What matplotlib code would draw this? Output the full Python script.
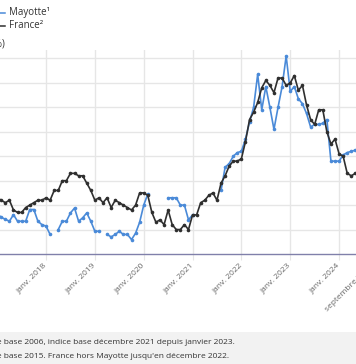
import numpy as np
import matplotlib
matplotlib.use("Agg")
import matplotlib.pyplot as plt
from matplotlib.lines import Line2D
from matplotlib.patches import Rectangle

plt.rcParams['font.family'] = ['Open Sans', 'DejaVu Sans']

# months since January 2017
france = [
    1.3, 1.2, 1.1, 1.2, 0.8, 0.7, 0.7, 0.9, 1.0, 1.1, 1.2, 1.2,   # 2017
    1.3, 1.2, 1.6, 1.6, 2.0, 2.0, 2.3, 2.3, 2.2, 2.2, 1.9, 1.6,   # 2018
    1.2, 1.3, 1.1, 1.3, 0.9, 1.2, 1.1, 1.0, 0.9, 0.8, 1.0, 1.5,   # 2019
    1.5, 1.4, 0.7, 0.3, 0.4, 0.2, 0.8, 0.2, 0.0, 0.0, 0.2, 0.0,   # 2020
    0.6, 0.6, 1.1, 1.2, 1.4, 1.5, 1.2, 1.9, 2.2, 2.6, 2.8, 2.8,   # 2021
    2.9, 3.6, 4.5, 4.8, 5.2, 5.8, 6.1, 5.9, 5.6, 6.2, 6.2, 5.9,   # 2022
    6.0, 6.3, 5.7, 5.9, 5.1, 4.5, 4.3, 4.9, 4.9, 4.0, 3.5, 3.7,   # 2023
    3.1, 3.0, 2.3, 2.2, 2.3, 2.2, 2.3, 1.8, 1.1,                  # 2024
]
N = np.nan
mayotte = [
    0.65, 0.5, 0.42, 0.34, 0.61, 0.34, 0.34, 0.34, 0.82, 0.82, 0.34, 0.2,   # 2017
    0.14, -0.2, N, 0.0, 0.34, 0.34, 0.68, 0.88, 0.34, 0.48, 0.68, 0.34,      # 2018
    -0.07, -0.07, N, -0.2, -0.3, -0.2, -0.07, -0.2, -0.2, -0.41, -0.15, 0.3, # 2019
    1.0, 1.45, N, N, N, N, 1.3, 1.3, 1.3, 1.0, 1.0, 0.4,                     # 2020
    0.6, N, N, N, N, N, N, 1.6, 2.55, 2.7, 3.0, 3.15,                        # 2021
    3.2, 3.7, 4.4, 5.0, 6.35, 4.9, 5.85, 5.0, 4.1, 5.0, 5.85, 7.1,           # 2022
    5.65, 5.85, 5.35, 5.15, 4.75, 4.2, 4.3, 4.3, 4.35, 4.5, 2.8, 2.8,        # 2023
    2.8, 3.05, 3.15, 3.2, 3.25,                                              # 2024
]
tick_months = [12, 24, 36, 48, 60, 72, 84, 92]
tick_labels = ["janv. 2018", "janv. 2019", "janv. 2020", "janv. 2021",
               "janv. 2022", "janv. 2023", "janv. 2024", "septembre 2024"]
y_ticks = [-1, 0, 1, 2, 3, 4, 5, 6, 7]

W, H = 356, 364
fig = plt.figure(figsize=(W / 100, H / 100), dpi=100)
fig.patch.set_facecolor("white")

# footnote band
fig.add_artist(Rectangle((0, 0), 1, (H - 332) / H, transform=fig.transFigure,
                         facecolor="#f2f2f2", edgecolor="none", zorder=0))

xL = -2.8 + 4.07 * (-3)
xR = -2.8 + 4.07 * 92
ax = fig.add_axes([xL / W, (H - 254) / H, (xR - xL) / W, (254 - 50) / H])
ax.set_facecolor("none")
ax.set_xlim(-3, 92)
ax.set_ylim(-1, (230 - 50) / 24.5)

for m in tick_months[:-1]:
    ax.axvline(m, color="#e6e6e6", lw=1, zorder=1)
for v in y_ticks[1:]:
    ax.axhline(v, color="#e6e6e6", lw=1, zorder=1)

xm = np.arange(len(mayotte))
xf = np.arange(len(france))
ax.plot(xm, mayotte, color="#4a8ad8", lw=1.2, marker="o", ms=2.6,
        markeredgewidth=0, zorder=3)
ax.plot(xf, france, color="#2f2f2f", lw=1.2, marker="o", ms=2.6,
        markeredgewidth=0, zorder=4)

for s in ["top", "right", "left"]:
    ax.spines[s].set_visible(False)
ax.spines["bottom"].set_color("#8080aa")
ax.spines["bottom"].set_linewidth(1)
ax.spines["bottom"].set_zorder(5)

ax.set_yticks(y_ticks)
ax.tick_params(axis="y", length=0, labelsize=6.5, labelcolor="#666666", pad=6)
ax.set_xticks(tick_months)
ax.set_xticklabels(tick_labels, rotation=45, ha="right", va="center",
                   rotation_mode="anchor", fontsize=6, color="#666666")
ax.tick_params(axis="x", length=4, color="#e6e6e6", pad=4)

# legend
def px(x, y):
    return x / W, 1 - y / H

for y, col, lab in [(13, "#4a8ad8", "Mayotte¹"), (26, "#2f2f2f", "France²")]:
    x0, y0 = px(-6, y)
    x1, _ = px(4.5, y)
    fig.add_artist(Line2D([x0, x1], [y0, y0], color=col, lw=1.1,
                          transform=fig.transFigure))
    tx, ty = px(9, y)
    fig.text(tx, ty, lab, fontsize=7, color="#333333", va="center", ha="left")

tx, ty = px(4.5, 44)
fig.text(tx, ty, "(en %)", fontsize=7, color="#333333", va="center", ha="right")

# footnotes
tx, ty = px(235, 343)
fig.text(tx, ty, "1. Indice base 2006, indice base décembre 2021 depuis janvier 2023.",
         fontsize=6.0, color="#333333", va="center", ha="right")
tx, ty = px(229, 357)
fig.text(tx, ty, "2. Indice base 2015. France hors Mayotte jusqu'en décembre 2022.",
         fontsize=6.0, color="#333333", va="center", ha="right")

fig.savefig("out.png", dpi=100)
